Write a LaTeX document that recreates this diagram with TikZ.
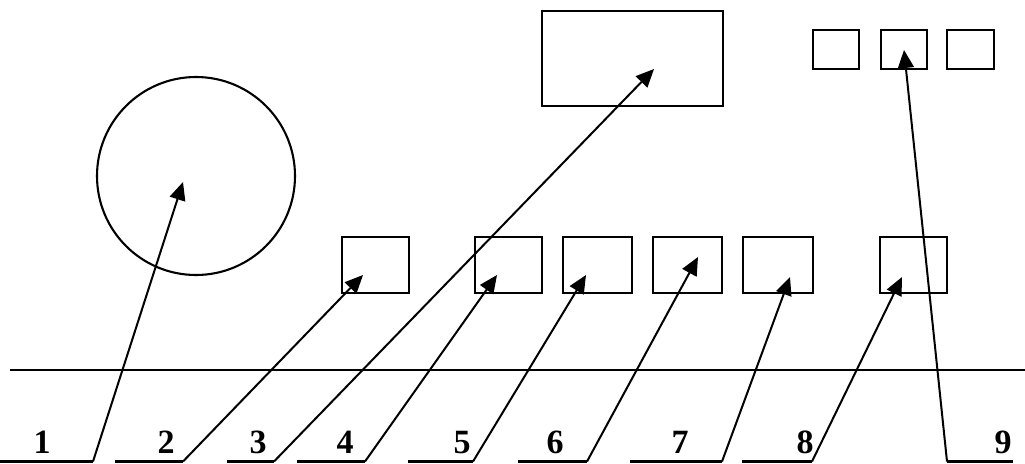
\documentclass[tikz,border=0pt]{standalone}
\usepackage{fontspec}
\setmainfont{Liberation Serif}
\usetikzlibrary{arrows.meta}
\begin{document}
\begin{tikzpicture}[x=1pt,y=-1pt,
  shp/.style={draw,line width=2.1pt,inner sep=0pt,minimum size=0pt},
  box/.style={shp,rectangle,minimum width=#1},
  con/.style={line width=2pt,-{Triangle[length=18pt,width=16pt]}},
  ul/.style={line width=2.2pt},
  lab/.style={font=\fontsize{34}{34}\selectfont\bfseries,inner sep=0pt,anchor=base}]
\useasboundingbox (0,0) rectangle (1025,463);
% shapes
\node[shp,circle,minimum size=198pt] (circ) at (196,176) {};
\node[box=181pt,minimum height=95pt] (big) at (632.5,58.5) {};
\node[box=46pt,minimum height=39pt] (ta) at (836,49.5) {};
\node[box=46pt,minimum height=39pt] (tb) at (904,49.5) {};
\node[box=47pt,minimum height=39pt] (tc) at (970.5,49.5) {};
\node[box=67pt,minimum height=56pt] (s1) at (375.5,265) {};
\node[box=67pt,minimum height=56pt] (s2) at (508.5,265) {};
\node[box=69pt,minimum height=56pt] (s3) at (597.5,265) {};
\node[box=69pt,minimum height=56pt] (s4) at (687.5,265) {};
\node[box=70pt,minimum height=56pt] (s5) at (778,265) {};
\node[box=67pt,minimum height=56pt] (s6) at (913.5,265) {};
% base line
\coordinate (hl1) at (10,370);
\coordinate (hl2) at (1025,370);
\draw[line width=2.1pt] (hl1) -- (hl2);
% labels
\node[lab] (l1) at (42,453) {1};
\node[lab] (l2) at (166,453) {2};
\node[lab] (l3) at (258,453) {3};
\node[lab] (l4) at (345,453) {4};
\node[lab] (l5) at (462,453) {5};
\node[lab] (l6) at (555,453) {6};
\node[lab] (l7) at (680,453) {7};
\node[lab] (l8) at (805,453) {8};
\node[lab] (l9) at (1003,453) {9};
% underline ends
\coordinate (u1a) at (0,461.5);   \coordinate (u1b) at (93,461.5);
\coordinate (u2a) at (115,461.5); \coordinate (u2b) at (183,461.5);
\coordinate (u3a) at (227,461.5); \coordinate (u3b) at (274,461.5);
\coordinate (u4a) at (297,461.5); \coordinate (u4b) at (365,461.5);
\coordinate (u5a) at (408,461.5); \coordinate (u5b) at (473,461.5);
\coordinate (u6a) at (518,461.5); \coordinate (u6b) at (587,461.5);
\coordinate (u7a) at (630,461.5); \coordinate (u7b) at (722,461.5);
\coordinate (u8a) at (742,461.5); \coordinate (u8b) at (812,461.5);
\coordinate (u9a) at (1013,461.5); \coordinate (u9b) at (947,461.5);
% arrow tips
\coordinate (t1) at (183,182);
\coordinate (t2) at (363,275);
\coordinate (t3) at (654,69);
\coordinate (t4) at (497,275);
\coordinate (t5) at (586,275);
\coordinate (t6) at (698,257);
\coordinate (t7) at (790,277);
\coordinate (t8) at (902,277);
\coordinate (t9) at (904,50);
\foreach \i in {1,...,9}{
  \draw[ul] (u\i a) -- (u\i b);
  \draw[con] (u\i b) -- (t\i);
}
\end{tikzpicture}
\end{document}
